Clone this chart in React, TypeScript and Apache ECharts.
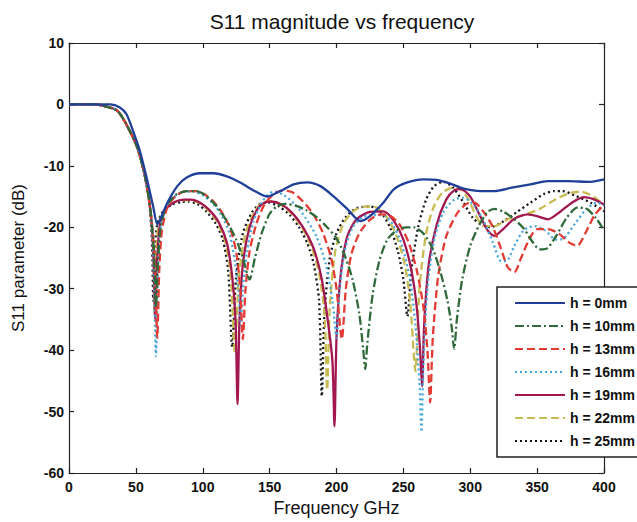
import React, { useEffect, useRef } from "react";
import * as echarts from "echarts";

type Pt = [number, number];

const legendNames = ["h = 0mm", "h = 10mm", "h = 13mm", "h = 16mm", "h = 19mm", "h = 22mm", "h = 25mm"];
const xTicks = { min: 0, max: 400, step: 50 };
const yTicks = { min: -60, max: 10, step: 10 };

const h0mm: Pt[] = [[0,0],[20,0],[31,0],[38,-0.5],[43,-1.6],[48,-4.4],[53,-7.6],[58,-11.9],[63,-16.7],[66,-19.5],[70,-17.8],[74,-15.8],[81,-13.3],[88,-11.9],[98,-11.2],[108,-11.2],[118,-11.7],[128,-12.7],[138,-14.0],[148,-15.0],[158,-14.1],[168,-13.0],[178,-12.7],[188,-13.3],[198,-15.0],[208,-17.0],[218,-19.0],[225,-18.2],[235,-16.0],[243,-13.8],[253,-12.7],[265,-12.2],[275,-12.3],[285,-12.9],[295,-13.7],[308,-14.1],[318,-14.1],[330,-13.6],[345,-13.0],[358,-12.5],[373,-12.5],[390,-12.6],[400,-12.2]];

const h10mm: Pt[] = [[0,0],[20,0],[25,-0.2],[36,-1.0],[43,-3.3],[51,-7],[57,-11.9],[61,-17.4],[63.5,-24],[65,-33],[66.5,-26],[68.5,-20],[73,-16.5],[80,-14.7],[88,-14.1],[95,-14.1],[102,-14.8],[110,-16.5],[118,-19],[125,-22],[130,-25],[135,-28.5],[139,-25],[144,-21],[150,-17.8],[156,-16.5],[162,-16.2],[170,-16.5],[178,-17.3],[186,-18.5],[193,-20],[200,-21.8],[206,-24.5],[212,-28.5],[217,-34],[220,-40],[221.5,-43.1],[223,-39],[227,-31],[232,-25.5],[238,-22],[245,-20.5],[252,-20],[258,-20],[265,-21],[272,-23.5],[278,-27.5],[283,-32],[286,-36],[288,-39.8],[290,-35],[294,-28.5],[300,-23],[307,-19.5],[313,-17.5],[318,-17],[325,-17.5],[333,-18.7],[340,-20.2],[346,-22.2],[352,-23.6],[357,-23.5],[364,-21.5],[372,-18.5],[380,-16.8],[387,-17],[394,-18.5],[400,-20.5]];

const h13mm: Pt[] = [[0,0],[20,0],[25,-0.2],[36,-1.0],[43,-3.3],[51,-7],[57,-11.9],[61,-17.4],[64,-25],[66,-38],[67.5,-27],[69.5,-20.5],[74,-16.5],[81,-14.7],[88,-14.1],[94,-14.1],[101,-14.6],[108,-15.8],[115,-17.8],[121,-20.5],[125,-24],[128,-30],[130,-38.2],[132,-30],[135,-24],[140,-19.5],[146,-16.3],[153,-14.6],[160,-14.0],[167,-14.3],[175,-15.8],[183,-18],[190,-21],[196,-25],[200,-30],[204,-38.2],[207,-30],[211,-24.5],[217,-21],[225,-18.8],[233,-17.9],[240,-18.1],[247,-19.5],[254,-22.5],[260,-27],[265,-33],[268,-40],[270,-48.5],[272,-38],[276,-28],[282,-21.5],[290,-17.8],[297,-16.2],[303,-16],[310,-17.5],[317,-20],[323,-23.5],[328,-26.5],[333,-27.3],[338,-25],[344,-22],[350,-20.3],[358,-20.3],[366,-21],[374,-22.5],[380,-23],[386,-21],[393,-18],[400,-16.3]];

const h16mm: Pt[] = [[0,0],[20,0],[25,-0.2],[36,-1.0],[43,-3.3],[51,-7],[57,-11.9],[61,-17.4],[63,-24],[65,-41],[66.5,-27],[68.5,-20],[73,-16.5],[80,-14.8],[87,-14.2],[93,-14.2],[100,-14.8],[107,-16],[114,-18],[120,-21],[124,-25.5],[127,-31],[128.5,-36],[130,-30],[133,-24],[138,-19],[144,-16],[149,-14.6],[154,-14.2],[161,-14.8],[169,-16.3],[177,-18.5],[185,-21.5],[192,-26],[197,-32],[200,-38],[202,-31],[206,-24],[212,-20],[220,-18.3],[228,-18],[235,-18],[242,-19.5],[249,-23],[255,-28.5],[259,-36],[262,-45],[263.5,-53.3],[265,-42],[268,-30],[273,-22],[280,-17.5],[288,-15.5],[295,-15.2],[303,-16.5],[310,-19],[317,-22.5],[323,-25.5],[327,-25.5],[333,-23],[340,-20.5],[348,-19.8],[356,-20.5],[364,-22],[370,-21.8],[378,-19.5],[387,-17],[395,-16],[400,-16.5]];

const h19mm: Pt[] = [[0,0],[20,0],[25,-0.2],[36,-1.0],[43,-3.3],[51,-7],[57,-11.9],[61,-17.4],[63,-24],[64.5,-35],[66,-25],[68,-19.5],[72,-17.2],[79,-15.9],[86,-15.5],[91,-15.5],[98,-16.0],[105,-17.2],[112,-19.2],[118,-22.5],[122,-28],[124.5,-35],[126,-48.8],[127.5,-35],[130,-26],[135,-20],[141,-17],[146,-16],[151,-15.8],[159,-16.3],[167,-17.7],[175,-20],[183,-23.5],[189,-28.5],[194,-36],[197,-42],[198.5,-52.4],[200,-38],[203,-28],[208,-21.5],[215,-18.7],[225,-17.5],[235,-17.4],[243,-19],[250,-22],[256,-27],[260,-33],[262.5,-40],[264,-45.9],[265.5,-36],[269,-26],[275,-19.5],[282,-15.5],[288,-14.0],[293,-13.8],[300,-15],[307,-18],[313,-20.5],[318,-21.4],[325,-20.2],[333,-18.6],[343,-17.9],[350,-18.2],[358,-18.7],[367,-17.5],[376,-16],[385,-15.1],[393,-15.5],[400,-16.3]];

const h22mm: Pt[] = [[0,0],[20,0],[25,-0.2],[36,-1.0],[43,-3.3],[51,-7],[57,-11.9],[61,-17.4],[63,-23],[64,-34],[65,-25],[67,-19.5],[71,-17.3],[78,-16.0],[85,-15.6],[90,-15.6],[97,-16.0],[104,-17.2],[111,-19.2],[117,-22.5],[121,-28],[124,-40.5],[127,-28],[132,-21],[139,-17.3],[145,-16],[150,-15.8],[158,-16.3],[166,-17.7],[174,-20],[181,-23],[187,-27.5],[191,-34],[193,-46.5],[195,-33],[199,-24],[205,-19.5],[213,-17.3],[222,-16.6],[230,-16.8],[238,-18.5],[245,-21.5],[251,-26],[255,-32],[259,-43.4],[262,-30],[267,-21],[273,-16.5],[280,-14.2],[290,-13.4],[298,-15.2],[304,-18],[310,-19.8],[318,-19.8],[328,-18.7],[340,-18.0],[352,-17],[365,-15.3],[375,-14.4],[383,-14.2],[392,-15],[400,-16.3]];

const h25mm: Pt[] = [[0,0],[20,0],[25,-0.2],[36,-1.0],[43,-3.3],[51,-7],[57,-11.9],[60,-16],[62,-22],[63,-32],[64,-24],[66,-19.5],[70,-17.5],[77,-16.3],[84,-15.9],[89,-15.8],[96,-16.2],[103,-17.5],[110,-19.5],[115,-22],[119,-27],[122,-39.5],[125,-28],[130,-21],[137,-17.5],[143,-16.2],[149,-16.0],[157,-16.6],[165,-18],[172,-20],[178,-22.5],[183,-26],[187,-32],[189,-47.5],[191,-34],[195,-25],[200,-21],[207,-18.3],[215,-16.9],[225,-16.6],[233,-17.5],[240,-20],[246,-24],[250,-28.5],[253,-34.5],[256,-27],[261,-20],[267,-15.5],[273,-13.3],[280,-12.6],[287,-13.5],[295,-16],[302,-18.5],[308,-19.5],[315,-20],[325,-19],[335,-17.5],[345,-16],[355,-14.6],[363,-14.1],[369,-14.1],[378,-14.8],[390,-16],[400,-17.4]];

const seriesData: Pt[][] = [h0mm, h10mm, h13mm, h16mm, h19mm, h22mm, h25mm];
const colors = ["#1f3f99", "#2f6a3a", "#e33a33", "#45a6da", "#a2174f", "#c8bb52", "#151515"];
const dashes: any[] = ["solid", [9, 3, 2, 3], [8, 4], [2, 3], "solid", [8, 4], [2, 3]];

const FONT = "'Liberation Sans', Arial, Helvetica, sans-serif";

export default function App() {
  const ref = useRef<HTMLDivElement>(null);
  useEffect(() => {
    if (!ref.current) return;
    const chart = echarts.init(ref.current, undefined, { renderer: "svg" });
    const axisCommon = {
      type: "value" as const,
      axisLine: { onZero: false, lineStyle: { color: "#222", width: 1.2 } },
      axisTick: { inside: true, length: 5, lineStyle: { color: "#222", width: 1.2 } },
      splitLine: { show: false },
    };
    chart.setOption({
      animation: false,
      backgroundColor: "#fff",
      title: {
        text: "S11 magnitude vs frequency",
        left: 337,
        textAlign: "center",
        top: 6,
        textStyle: { fontFamily: FONT, fontSize: 21, fontWeight: "normal", color: "#111" },
      },
      grid: { left: 69, right: 33, top: 43, bottom: 48 },
      xAxis: [
        {
          ...axisCommon,
          min: xTicks.min, max: xTicks.max, interval: xTicks.step,
          position: "bottom",
          name: "Frequency GHz",
          nameLocation: "middle",
          nameGap: 26,
          nameTextStyle: { fontFamily: FONT, fontSize: 18, color: "#111" },
          axisLabel: { fontFamily: FONT, fontSize: 14, fontWeight: "bold", color: "#111", margin: 7 },
        },
        {
          ...axisCommon,
          min: xTicks.min, max: xTicks.max, interval: xTicks.step,
          position: "top",
          axisLabel: { show: false },
        },
      ],
      yAxis: [
        {
          ...axisCommon,
          min: yTicks.min, max: yTicks.max, interval: yTicks.step,
          position: "left",
          name: "S11 parameter (dB)",
          nameLocation: "middle",
          nameGap: 42,
          nameTextStyle: { fontFamily: FONT, fontSize: 17, color: "#111" },
          axisLabel: { fontFamily: FONT, fontSize: 14, fontWeight: "bold", color: "#111", margin: 5 },
        },
        {
          ...axisCommon,
          min: yTicks.min, max: yTicks.max, interval: yTicks.step,
          position: "right",
          axisLabel: { show: false },
        },
      ],
      legend: {
        orient: "vertical",
        left: 497,
        top: 287,
        padding: [9, 12, 9, 17],
        itemWidth: 50,
        itemHeight: 14,
        itemGap: 9,
        backgroundColor: "#fff",
        borderColor: "#222",
        borderWidth: 1.5,
        selectedMode: false,
        itemStyle: { opacity: 0, color: "rgba(0,0,0,0)", borderWidth: 0 },
        textStyle: { fontFamily: FONT, fontSize: 14, fontWeight: "bold", color: "#111", lineHeight: 14 },
        data: legendNames,
      },
      series: seriesData.map((d, i) => ({
        name: legendNames[i],
        type: "line",
        data: d,
        xAxisIndex: 0,
        yAxisIndex: 0,
        symbol: "none",
        showSymbol: false,
        smooth: 0.25,
        z: 10 - i,
        lineStyle: { color: colors[i], width: 2.3, type: dashes[i] },
        itemStyle: { color: colors[i] },
      })),
    });
    return () => chart.dispose();
  }, []);
  return (
    <div
      ref={ref}
      style={{ position: "fixed", left: 0, top: 0, width: 637, height: 522 }}
    />
  );
}
